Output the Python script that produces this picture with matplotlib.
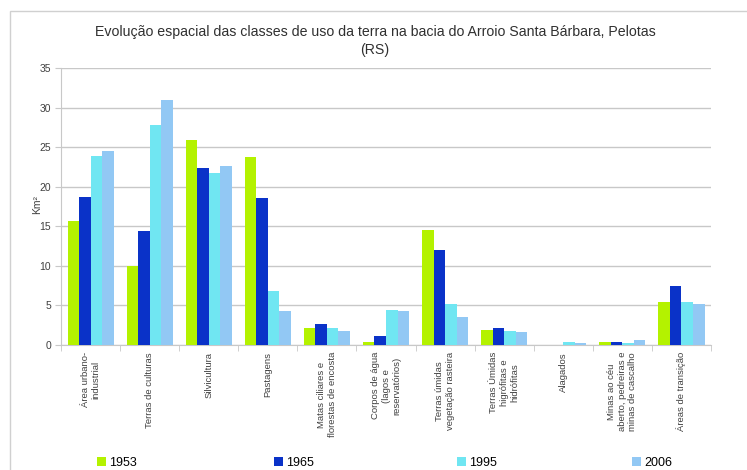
import matplotlib
matplotlib.use("Agg")
import matplotlib.pyplot as plt
from matplotlib.patches import Patch, Rectangle
import numpy as np

plt.rcParams['font.family'] = ['Liberation Sans', 'DejaVu Sans']

# categorias de uso da terra
categorias = [
    "Área urbano-\nindustrial",
    "Terras de culturas",
    "Silvicultura",
    "Pastagens",
    "Matas ciliares e\nflorestas de encosta",
    "Corpos de água\n(lagos e\nreservatórios)",
    "Terras úmidas\nvegetação rasteira",
    "Terras Úmidas\nhigrófitas e\nhidrófitas",
    "Alagados",
    "Minas ao céu\naberto, pedreiras e\nminas de cascalho",
    "Áreas de transição",
]

anos = ["1953", "1965", "1995", "2006"]

# areas em km2
v1953 = [15.7, 10.0, 25.9, 23.7, 2.2, 0.4, 14.5, 1.9, 0.0, 0.35, 5.4]
v1965 = [18.7, 14.4, 22.4, 18.6, 2.6, 1.1, 12.0, 2.2, 0.0, 0.4, 7.5]
v1995 = [23.9, 27.8, 21.7, 6.8, 2.1, 4.4, 5.2, 1.8, 0.4, 0.3, 5.4]
v2006 = [24.5, 30.9, 22.6, 4.3, 1.8, 4.3, 3.6, 1.7, 0.3, 0.6, 5.2]

series = [v1953, v1965, v1995, v2006]
cores = ['#b4f200', '#0a32c8', '#70e6f2', '#92c8f4']

W, H = 747, 470
fig = plt.figure(figsize=(W / 100, H / 100), dpi=100)
ax = fig.add_axes([61 / W, 1 - 345 / H, (711 - 61) / W, (345 - 68) / H])

# moldura externa
fig.patches.append(Rectangle((10 / W, -0.1), 1.2, 1 - 11 / H + 0.1,
                             transform=fig.transFigure, fill=False,
                             edgecolor='#d0d0d0', lw=1))

x = np.arange(len(categorias))
bw = 0.195
for i, (vals, cor) in enumerate(zip(series, cores)):
    ax.bar(x + (i - 1.5) * bw, vals, bw, color=cor, zorder=3, label=anos[i])

ax.set_xlim(-0.5, len(categorias) - 0.5)
ax.set_ylim(0, 35)
ax.set_yticks(range(0, 36, 5))
ax.yaxis.grid(True, color='#c8c8c8', lw=1)
ax.set_axisbelow(True)
for s in ['top', 'right']:
    ax.spines[s].set_visible(False)
for s in ['left', 'bottom']:
    ax.spines[s].set_color('#c8c8c8')

ax.set_xticks(x)
ax.set_xticklabels(categorias, rotation=90, fontsize=6.8, color='#404040',
                   ha='center', va='top', multialignment='center')
ax.set_xticks(np.arange(-0.5, len(categorias)), minor=True)
ax.tick_params(axis='x', which='major', length=0, pad=5)
ax.tick_params(axis='x', which='minor', length=4, color='#c8c8c8')
ax.tick_params(axis='y', length=4, color='#c8c8c8', labelsize=7.5,
               labelcolor='#404040', pad=3)

fig.text(37 / W, 1 - 205 / H, "Km²", rotation=90, fontsize=7.5,
         color='#404040', ha='center', va='center')

fig.text(0.502, 1 - 32 / H, "Evolução espacial das classes de uso da terra na bacia do Arroio Santa Bárbara, Pelotas",
         fontsize=10.2, color='#303030', ha='center', va='center')
fig.text(0.502, 1 - 50 / H, "(RS)", fontsize=10.2, color='#303030',
         ha='center', va='center')

# legenda: uma entrada por posicao
leg_x = [97, 274, 457, 632]
for ano, cor, lx in zip(anos, cores, leg_x):
    fig.legend([Patch(facecolor=cor, edgecolor='none')], [ano],
               loc='center left', bbox_to_anchor=(lx / W, 1 - 463 / H),
               frameon=False, fontsize=9, handlelength=0.7, handleheight=0.7,
               handletextpad=0.3, borderaxespad=0, borderpad=0)

fig.savefig("out.png", dpi=100)
